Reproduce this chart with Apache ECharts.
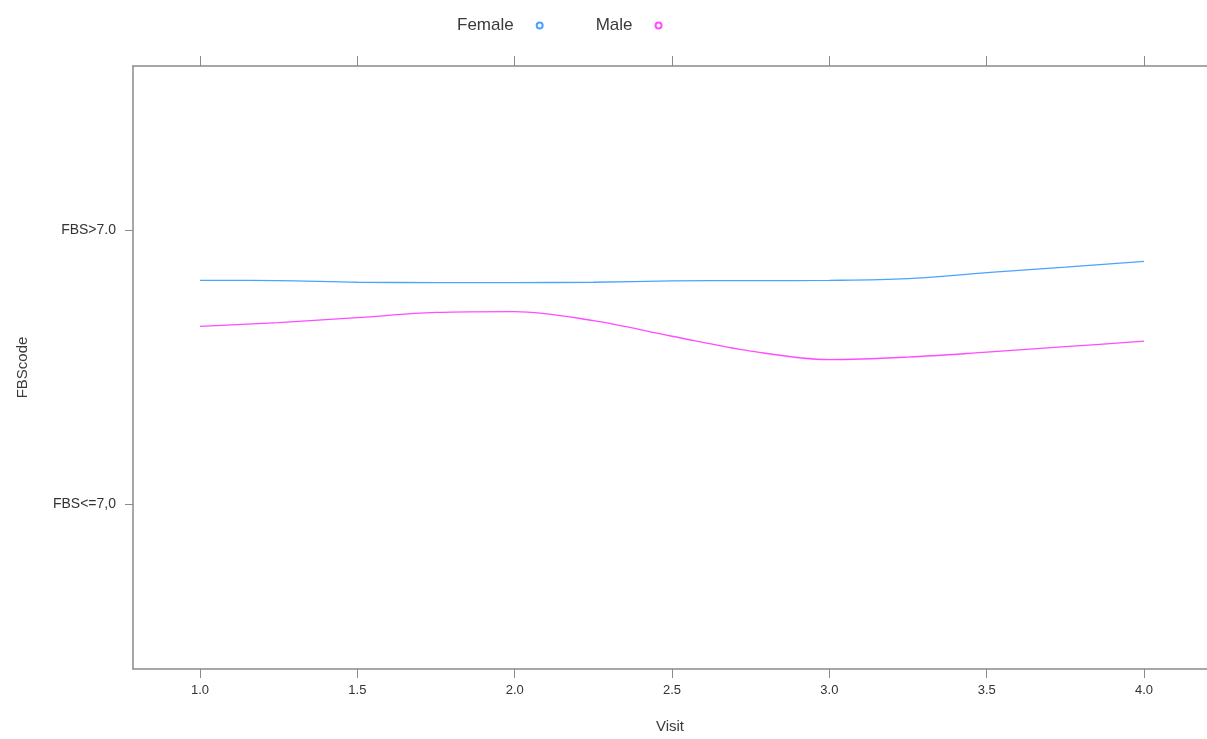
<!DOCTYPE html>
<html>
<head>
<meta charset="utf-8">
<script src="https://cdn.jsdelivr.net/npm/echarts@6/dist/echarts.min.js"></script>
<style>html,body{margin:0;padding:0;background:#fff}#c{width:1207px;height:739px}</style>
</head>
<body>
<div id="c"></div>
<script>
const visits = [1.0, 1.25, 1.5, 1.75, 2.0, 2.25, 2.5, 2.75, 3.0, 3.25, 3.5, 3.75, 4.0];
const femaleFBS = [1.818, 1.817, 1.811, 1.810, 1.810, 1.811, 1.816, 1.817, 1.818, 1.824, 1.846, 1.866, 1.887];
const maleFBS = [1.650, 1.664, 1.682, 1.701, 1.704, 1.671, 1.614, 1.560, 1.529, 1.538, 1.556, 1.576, 1.596];
const xTicks = [1.0, 1.5, 2.0, 2.5, 3.0, 3.5, 4.0];
const yTickValues = [1, 2];
const yTickLabels = ['FBS<=7,0', 'FBS>7.0'];
const seriesNames = ['Female', 'Male'];
const seriesColors = ['#4aa3ff', '#ff4cff'];

const font = 'Liberation Sans, Arial, sans-serif';
const axisGray = '#8a8a8a';
const chart = echarts.init(document.getElementById('c'));
const pair = (xs, ys) => xs.map((x, i) => [x, ys[i]]);

chart.setOption({
  animation: false,
  backgroundColor: '#fff',
  legend: {
    left: 452, top: 12,
    align: 'right',
    itemWidth: 6, itemHeight: 6, itemGap: 52,
    icon: 'emptyCircle',
    formatter: n => '{t|' + n + '}',
    textStyle: { fontFamily: font, fontSize: 17, color: '#3a3a3a',
      rich: { t: { fontFamily: font, fontSize: 17, color: '#3a3a3a', padding: [0, 18, 0, 0] } } },
    data: seriesNames
  },
  grid: { left: 133, right: 0, top: 66, bottom: 70, containLabel: false },
  xAxis: [{
    type: 'value', min: 0.787, max: 4.2, position: 'bottom',
    name: 'Visit', nameLocation: 'middle', nameGap: 50,
    nameTextStyle: { fontFamily: font, fontSize: 15, color: '#3a3a3a' },
    axisLine: { show: true, lineStyle: { color: axisGray, width: 1.5 } },
    axisTick: { show: true, length: 9, customValues: xTicks, lineStyle: { color: axisGray } },
    axisLabel: { customValues: xTicks, formatter: v => v.toFixed(1), fontFamily: font, fontSize: 13, color: '#333', margin: 15 },
    splitLine: { show: false }
  }, {
    type: 'value', min: 0.787, max: 4.2, position: 'top',
    axisLine: { show: true, lineStyle: { color: axisGray, width: 1.5 } },
    axisTick: { show: true, length: 10, customValues: xTicks, lineStyle: { color: axisGray } },
    axisLabel: { show: false },
    splitLine: { show: false }
  }],
  yAxis: {
    type: 'value', min: 0.4, max: 2.6,
    name: 'FBScode', nameLocation: 'middle', nameGap: 103, nameRotate: 90,
    nameTextStyle: { fontFamily: font, fontSize: 15, color: '#3a3a3a' },
    axisLine: { show: true, lineStyle: { color: axisGray, width: 1.5 } },
    axisTick: { show: true, length: 8, customValues: yTickValues, lineStyle: { color: axisGray } },
    axisLabel: { customValues: yTickValues, formatter: v => yTickLabels[yTickValues.indexOf(v)] || '',
      fontFamily: font, fontSize: 14, color: '#333', margin: 17 },
    splitLine: { show: false }
  },
  series: [{
    name: seriesNames[0], type: 'line', xAxisIndex: 0, data: pair(visits, femaleFBS),
    smooth: 0.35, showSymbol: false, symbol: 'emptyCircle',
    itemStyle: { color: seriesColors[0] }, lineStyle: { color: seriesColors[0], width: 1.3 }
  }, {
    name: seriesNames[1], type: 'line', xAxisIndex: 0, data: pair(visits, maleFBS),
    smooth: 0.35, showSymbol: false, symbol: 'emptyCircle',
    itemStyle: { color: seriesColors[1] }, lineStyle: { color: seriesColors[1], width: 1.3 }
  }]
});
</script>
</body>
</html>
